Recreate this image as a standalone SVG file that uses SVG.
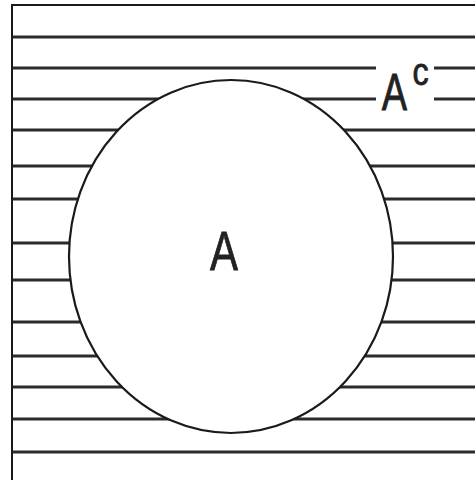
<svg xmlns="http://www.w3.org/2000/svg" width="475" height="480" viewBox="0 0 475 480">
  <style>
    .hatch { stroke: #2b2b2b; stroke-width: 3; }
    .frame { stroke: #1a1a1a; stroke-width: 2; fill: none; }
    .lbl { font-family: "Liberation Sans", Arial, sans-serif; fill: #222; stroke: #222; stroke-width: 0.8; text-anchor: middle; }
  </style>
  <rect x="0" y="0" width="475" height="480" fill="#fff"/>
  <g id="hatching">
    <line class="hatch" x1="12" y1="37" x2="475" y2="37"/>
    <line class="hatch" x1="12" y1="68" x2="475" y2="68"/>
    <line class="hatch" x1="12" y1="99" x2="475" y2="99"/>
    <line class="hatch" x1="12" y1="130" x2="475" y2="130"/>
    <line class="hatch" x1="12" y1="166" x2="475" y2="166"/>
    <line class="hatch" x1="12" y1="199" x2="475" y2="199"/>
    <line class="hatch" x1="12" y1="243" x2="475" y2="243"/>
    <line class="hatch" x1="12" y1="280" x2="475" y2="280"/>
    <line class="hatch" x1="12" y1="322" x2="475" y2="322"/>
    <line class="hatch" x1="12" y1="356" x2="475" y2="356"/>
    <line class="hatch" x1="12" y1="387" x2="475" y2="387"/>
    <line class="hatch" x1="12" y1="419" x2="475" y2="419"/>
    <line class="hatch" x1="12" y1="452" x2="475" y2="452"/>
  </g>
  <g id="frame">
    <line class="frame" x1="11" y1="5" x2="475" y2="5"/>
    <line class="frame" x1="12" y1="4" x2="12" y2="480"/>
  </g>
  <g id="setA">
    <ellipse cx="231" cy="256.5" rx="162" ry="176.5" fill="#fff" stroke="#1a1a1a" stroke-width="2.2"/>
    <text class="lbl" font-size="56" transform="translate(224,270) scale(0.75,1)">A</text>
  </g>
  <g id="complement">
    <rect x="376" y="58" width="58" height="52" fill="#fff"/>
    <text class="lbl" font-size="52" transform="translate(394.5,110) scale(0.73,1)">A</text>
    <text class="lbl" font-size="38" transform="translate(420.5,85) scale(0.85,1)">c</text>
  </g>
</svg>
